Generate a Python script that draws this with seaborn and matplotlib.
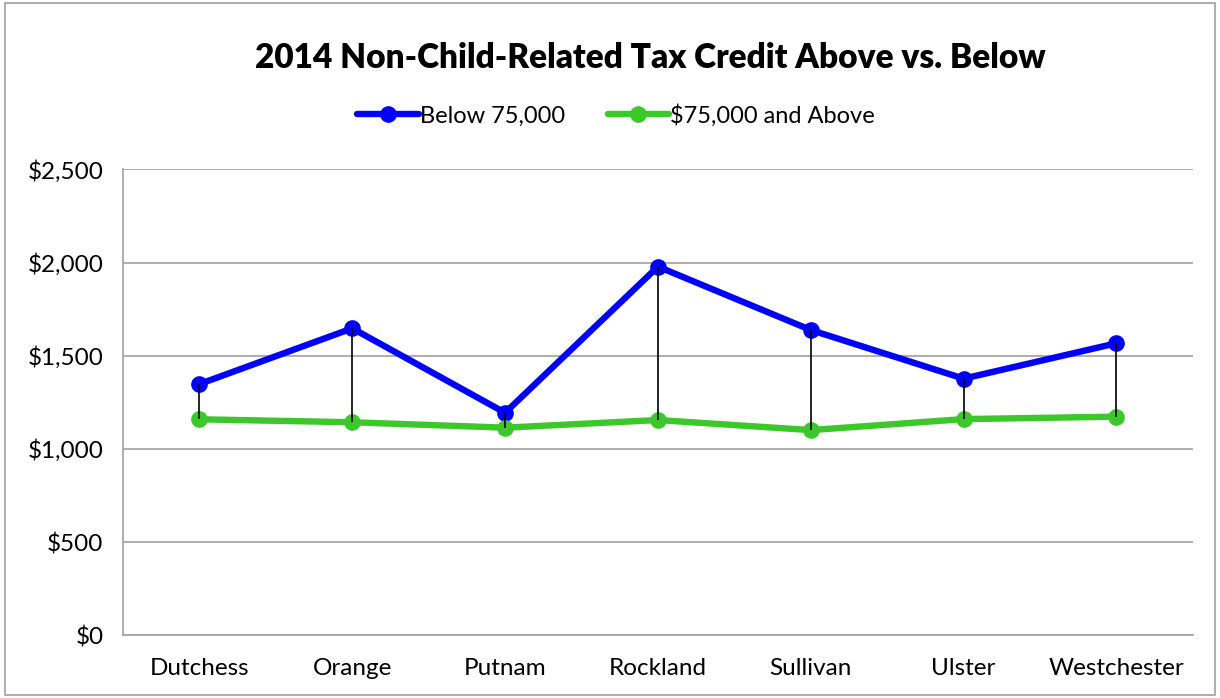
import pandas as pd
import numpy as np
import seaborn as sns
import matplotlib.pyplot as plt
from matplotlib.patches import Rectangle

# Chart data
counties = ['Dutchess', 'Orange', 'Putnam', 'Rockland', 'Sullivan', 'Ulster', 'Westchester']
below_75k = [1348, 1647, 1194, 1978, 1638, 1377, 1567]
above_75k = [1159, 1143, 1114, 1155, 1101, 1160, 1173]
series_names = ['Below 75,000', '$75,000 and Above']
y_ticks = [0, 500, 1000, 1500, 2000, 2500]

# Long format for seaborn
data = pd.DataFrame({
    'county': counties * 2,
    'pos': list(range(len(counties))) * 2,
    'credit': below_75k + above_75k,
    'series': [series_names[0]] * len(counties) + [series_names[1]] * len(counties),
})

sns.set_style('white')
plt.rcParams['font.family'] = ['Lato', 'DejaVu Sans']
plt.rcParams['text.color'] = 'black'
plt.rcParams['xtick.labelcolor'] = 'black'
plt.rcParams['ytick.labelcolor'] = 'black'

fig = plt.figure(figsize=(12.2, 6.98), dpi=100)
ax = fig.add_axes([0.1008, 0.0898, 0.877, 0.6676])

palette = {series_names[0]: '#0000FF', series_names[1]: '#3CC72A'}

# High-low lines between the two series
ax.vlines(range(len(counties)), above_75k, below_75k, color='black', linewidth=1.2, zorder=3)

sns.lineplot(data=data, x='pos', y='credit', hue='series', palette=palette,
             marker='o', markersize=12, markeredgewidth=0, linewidth=4.6,
             ax=ax, zorder=2)

ax.set_xlim(-0.5, len(counties) - 0.5)
ax.set_ylim(0, 2500)
ax.set_yticks(y_ticks)
ax.set_yticklabels([f'${v:,}' for v in y_ticks])
ax.set_xticks(range(len(counties)))
ax.set_xticklabels(counties)
ax.set_xticks(np.arange(-0.5, len(counties)), minor=True)
ax.tick_params(axis='x', which='major', length=0, pad=16, labelsize=17.5)
ax.tick_params(axis='x', which='minor', length=8, width=1, color='#A0A0A0', direction='out')
ax.tick_params(axis='y', length=8, width=1, color='#A0A0A0', direction='out', pad=6, labelsize=17.5)
ax.set_xlabel('')
ax.set_ylabel('')

ax.grid(axis='y', color='#A0A0A0', linewidth=1.2)
ax.set_axisbelow(True)
for side in ['top', 'right']:
    ax.spines[side].set_visible(False)
for side in ['left', 'bottom']:
    ax.spines[side].set_color('#A0A0A0')
    ax.spines[side].set_linewidth(1.2)

fig.text(0.533, 0.917, '2014 Non-Child-Related Tax Credit Above vs. Below',
         ha='center', va='center', fontsize=24, fontweight='heavy', color='black')

handles, labels = ax.get_legend_handles_labels()
ax.legend(handles, labels, loc='center', bbox_to_anchor=(0.505, 0.835),
          bbox_transform=fig.transFigure, ncol=2, frameon=False, fontsize=17,
          handlelength=2.6, handletextpad=0.05, columnspacing=1.8)

# Chart area border
fig.patches.append(Rectangle((0.004, 0.004), 0.992, 0.992, transform=fig.transFigure,
                             fill=False, edgecolor='#A0A0A0', linewidth=1.2))

plt.savefig('out.png', dpi=100)
plt.close()
print('Finished')
